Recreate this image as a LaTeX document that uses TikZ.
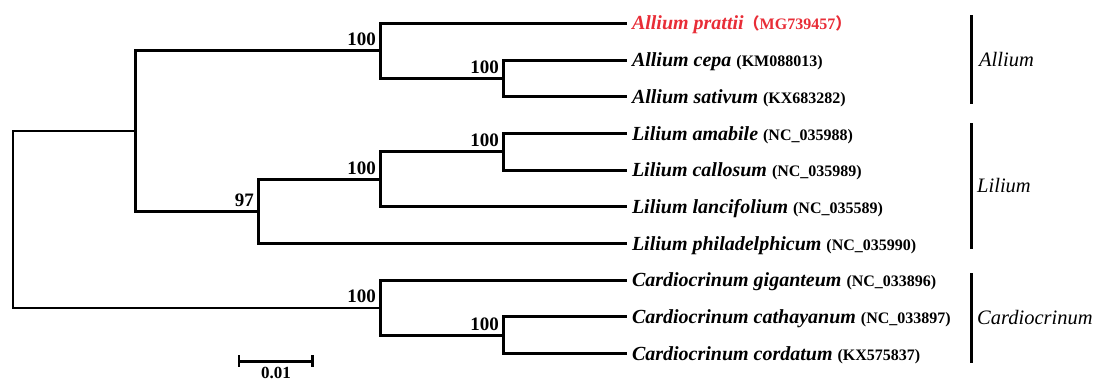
\documentclass[tikz,border=0pt]{standalone}
\usepackage{fontspec}
\setmainfont{Liberation Serif}
\newfontfamily\cjkfont{Noto Sans CJK SC}
\definecolor{pred}{RGB}{232,45,55}
\newcommand{\acc}[1]{{\upshape\bfseries\fontsize{16}{16}\selectfont #1}}
\tikzset{
  br/.style={line width=3pt},
  rootbr/.style={line width=2pt},
  leaf/.style={anchor=west, inner xsep=5pt, inner ysep=0pt, outer sep=0pt,
    text height=13.3pt, text depth=0pt,
    font=\bfseries\itshape\fontsize{20}{20}\selectfont},
  boot/.style={anchor=base east, inner sep=0pt, xshift=-4pt, yshift=5pt,
    font=\bfseries\fontsize{19}{19}\selectfont},
  genus/.style={anchor=west, inner sep=0pt, font=\itshape\fontsize{20.5}{20.5}\selectfont},
  clade/.style={line width=3pt},
  scalebar/.style={line width=3pt}
}
\begin{document}
\begin{tikzpicture}[x=1pt,y=-1pt]
\useasboundingbox (0,0) rectangle (1097,383);
% internal nodes
\coordinate (root) at (13,219.4);
\coordinate (nAL) at (135,131.1);
\coordinate (nAl) at (380,50.8);
\coordinate (nAc) at (503,78.35);
\coordinate (n97) at (258,211.4);
\coordinate (nLi) at (380,179.3);
\coordinate (nLac) at (503,151.75);
\coordinate (nCa) at (380,307.7);
\coordinate (nCc) at (503,335.25);
% leaves
\node[leaf,text=pred] (l1) at (627,23.3) {Allium prattii\acc{{\cjkfont （}MG739457{\cjkfont ）}}};
\node[leaf] (l2) at (627,60) {Allium cepa \acc{(KM088013)}};
\node[leaf] (l3) at (627,96.7) {Allium sativum \acc{(KX683282)}};
\node[leaf] (l4) at (627,133.4) {Lilium amabile \acc{(NC\_035988)}};
\node[leaf] (l5) at (627,170.1) {Lilium callosum \acc{(NC\_035989)}};
\node[leaf] (l6) at (627,206.8) {Lilium lancifolium \acc{(NC\_035589)}};
\node[leaf] (l7) at (627,243.5) {Lilium philadelphicum \acc{(NC\_035990)}};
\node[leaf] (l8) at (627,280.2) {Cardiocrinum giganteum \acc{(NC\_033896)}};
\node[leaf] (l9) at (627,316.9) {Cardiocrinum cathayanum \acc{(NC\_033897)}};
\node[leaf] (l10) at (627,353.6) {Cardiocrinum cordatum \acc{(KX575837)}};
% edges
\draw[rootbr] (root) |- (nAL);
\draw[rootbr] (root) |- (nCa);
\draw[br] (nAL) |- (nAl);
\draw[br] (nAL) |- (n97);
\draw[br] (nAl) |- (l1);
\draw[br] (nAl) |- (nAc);
\draw[br] (nAc) |- (l2);
\draw[br] (nAc) |- (l3);
\draw[br] (n97) |- (nLi);
\draw[br] (n97) |- (l7);
\draw[br] (nLi) |- (nLac);
\draw[br] (nLi) |- (l6);
\draw[br] (nLac) |- (l4);
\draw[br] (nLac) |- (l5);
\draw[br] (nCa) |- (l8);
\draw[br] (nCa) |- (nCc);
\draw[br] (nCc) |- (l9);
\draw[br] (nCc) |- (l10);
% bootstrap values
\node[boot] (bAl) at (nAl) {100};
\node[boot] (bAc) at (nAc) {100};
\node[boot] (bLi) at (nLi) {100};
\node[boot] (bLac) at (nLac) {100};
\node[boot] (b97) at (n97) {97};
\node[boot] (bCa) at (nCa) {100};
\node[boot] (bCc) at (nCc) {100};
% clade brackets
\coordinate (aT) at (971,15); \coordinate (aB) at (971,104);
\coordinate (lT) at (971,123); \coordinate (lB) at (971,249);
\coordinate (cT) at (971,273); \coordinate (cB) at (971,363);
\draw[clade] (aT) -- (aB);
\draw[clade] (lT) -- (lB);
\draw[clade] (cT) -- (cB);
\node[genus] (gA) at (979,59.5) {Allium};
\node[genus] (gL) at (977,186) {Lilium};
\node[genus] (gC) at (977,318) {Cardiocrinum};
% scale bar
\coordinate (sL) at (239,361); \coordinate (sR) at (312.7,361);
\draw[scalebar] (sL) -- (sR);
\draw[line width=2.5pt] ([yshift=6pt]sL) -- ([yshift=-6pt]sL);
\draw[line width=2.5pt] ([yshift=6pt]sR) -- ([yshift=-6pt]sR);
\node[anchor=base, inner sep=0pt, font=\bfseries\fontsize{17}{17}\selectfont] (sLab) at (276,378) {0.01};
\end{tikzpicture}
\end{document}
